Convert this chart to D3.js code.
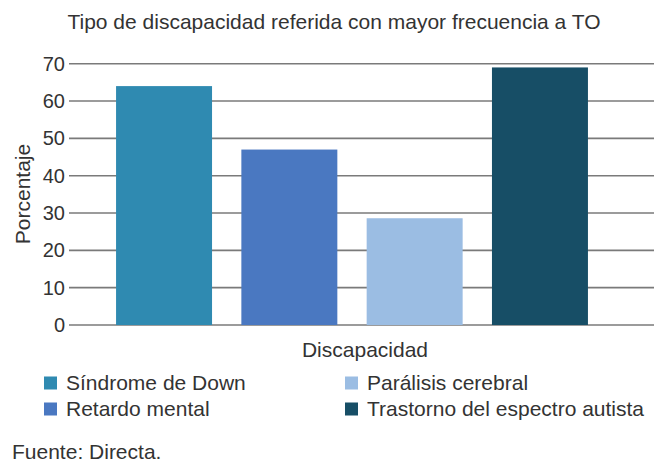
<!DOCTYPE html>
<html>
<head>
<meta charset="utf-8">
<script src="https://cdn.jsdelivr.net/npm/d3@7"></script>
<style>
  body { margin: 0; background: #fff; }
  text { font-family: "Liberation Sans", Arial, sans-serif; fill: #333; }
</style>
</head>
<body>
<div id="chart-area"></div>
<script>
const categories = ["Síndrome de Down", "Retardo mental", "Parálisis cerebral", "Trastorno del espectro autista"];
const values = [64, 47, 28.6, 69];
const colors = ["#2f8ab1", "#4a78c1", "#9bbde3", "#174e66"];
const yTicks = [0, 10, 20, 30, 40, 50, 60, 70];

const W = 654, H = 466;

const svg = d3.select("#chart-area")
  .append("svg")
  .attr("width", W)
  .attr("height", H);

const x = d3.scaleBand()
  .domain(categories)
  .range([91, 613])
  .paddingInner(0.234)
  .paddingOuter(0.2);

const y = d3.scaleLinear()
  .domain([0, 70])
  .range([325, 63.7]);

// gridlines
svg.append("g")
  .selectAll("line")
  .data(yTicks)
  .enter()
  .append("line")
  .attr("x1", 69)
  .attr("x2", W)
  .attr("y1", d => y(d))
  .attr("y2", d => y(d))
  .attr("stroke", "#7a7a7a")
  .attr("stroke-width", 1.6);

// y tick labels
svg.append("g")
  .selectAll("text")
  .data(yTicks)
  .enter()
  .append("text")
  .attr("x", 65)
  .attr("y", d => y(d))
  .attr("dy", "0.35em")
  .attr("text-anchor", "end")
  .attr("font-size", "20px")
  .text(d => d);

// bars
svg.append("g")
  .selectAll("rect")
  .data(categories)
  .enter()
  .append("rect")
  .attr("x", d => x(d))
  .attr("y", (d, i) => y(values[i]))
  .attr("width", x.bandwidth())
  .attr("height", (d, i) => y(0) - y(values[i]))
  .attr("fill", (d, i) => colors[i]);

// title
svg.append("text")
  .attr("x", 334)
  .attr("y", 29)
  .attr("text-anchor", "middle")
  .attr("font-size", "21px")
  .text("Tipo de discapacidad referida con mayor frecuencia a TO");

// axis titles
svg.append("text")
  .attr("x", 365)
  .attr("y", 357)
  .attr("text-anchor", "middle")
  .attr("font-size", "21px")
  .text("Discapacidad");

svg.append("text")
  .attr("transform", "rotate(-90)")
  .attr("x", -194)
  .attr("y", 30)
  .attr("text-anchor", "middle")
  .attr("font-size", "21px")
  .text("Porcentaje");

// legend
const legendPos = [[44, 383], [44, 409], [345, 383], [345, 409]];
const legend = svg.append("g")
  .selectAll("g")
  .data(categories)
  .enter()
  .append("g")
  .attr("transform", (d, i) => `translate(${legendPos[i][0]}, ${legendPos[i][1]})`);

legend.append("rect")
  .attr("x", 0)
  .attr("y", -6.5)
  .attr("width", 13)
  .attr("height", 13)
  .attr("fill", (d, i) => colors[i]);

legend.append("text")
  .attr("x", 22)
  .attr("y", 0)
  .attr("dy", "0.35em")
  .attr("font-size", "21px")
  .text(d => d);

svg.append("text")
  .attr("x", 12)
  .attr("y", 459)
  .attr("font-size", "21px")
  .text("Fuente: Directa.");
</script>
</body>
</html>
